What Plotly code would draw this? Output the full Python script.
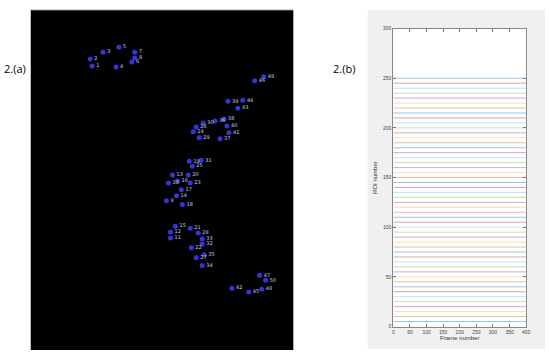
import plotly.graph_objects as go

W, H = 549, 359

# ---- Panel (a): ROI centroids (image pixel coords) ----
roi_labels = [str(i) for i in range(1, 51)]
roi_x = [92, 90, 103, 116, 119, 132, 135, 135, 167, 169,
         171, 171, 173, 177, 176, 178, 182, 183, 190, 189,
         191, 192, 191, 194, 193, 197, 197, 199, 200, 204,
         202, 203, 203, 203, 205, 216, 221, 225, 229, 228,
         230, 233, 239, 244, 250, 256, 261, 263, 265, 267]
roi_y = [64, 57, 50, 65, 45, 60, 50, 56, 201, 183,
         239, 233, 175, 196, 227, 181, 190, 205, 161, 175,
         229, 249, 183, 131, 166, 126, 259, 234, 137, 122,
         160, 245, 240, 267, 256, 120, 138, 118, 100, 125,
         132, 290, 107, 99, 294, 79, 277, 291, 75, 282]

# ---- Panel (b): ROI traces ----
frames = [0, 400]
roi_levels = [5, 10, 15, 20, 25, 30, 35, 40, 45, 50,
              55, 60, 65, 70, 75, 80, 85, 90, 95, 100,
              105, 110, 115, 120, 125, 130, 135, 140, 145, 150,
              155, 160, 165, 170, 175, 180, 185, 190, 195, 200,
              205, 210, 215, 220, 225, 230, 235, 240, 245, 250]
x_ticks = [0, 50, 100, 150, 200, 250, 300, 350, 400]
y_ticks = [0, 50, 100, 150, 200, 250, 300]
matlab_colors = ["rgba(0,114,189,0.4)", "rgba(217,83,25,0.4)", "rgba(237,177,32,0.4)",
                 "rgba(126,47,142,0.4)", "rgba(119,172,48,0.4)", "rgba(77,190,238,0.4)",
                 "rgba(162,20,47,0.4)"]

fig = go.Figure()

for i, lvl in enumerate(roi_levels):
    fig.add_trace(go.Scatter(x=frames, y=[lvl, lvl], mode="lines",
                             line=dict(color=matlab_colors[i % 7], width=1),
                             showlegend=False, hoverinfo="skip", xaxis="x", yaxis="y"))

fig.add_trace(go.Scatter(x=roi_x, y=roi_y, mode="markers+text", text=roi_labels,
                         textposition="middle right",
                         textfont=dict(size=5, color="#c8c8e8", family="DejaVu Sans"),
                         marker=dict(size=5, color="#3434d8", line=dict(width=0)),
                         showlegend=False, xaxis="x2", yaxis="y2"))

def px(x):
    return x / W

def py(y):
    return 1 - y / H

shapes = [
    dict(type="rect", xref="paper", yref="paper", x0=px(370), x1=px(549), y0=py(352), y1=py(7),
         fillcolor="#f0f0f0", line=dict(width=0), layer="below"),
    dict(type="rect", xref="paper", yref="paper", x0=px(396), x1=px(530), y0=py(329), y1=py(26),
         fillcolor="white", line=dict(width=0), layer="below"),
    dict(type="rect", xref="paper", yref="paper", x0=px(30), x1=px(295), y0=py(353), y1=py(7),
         fillcolor="black", line=dict(width=0), layer="below"),
    dict(type="line", xref="paper", yref="paper", x0=px(30), x1=px(295), y0=py(7), y1=py(7),
         line=dict(color="#bbbbbb", width=1)),
]

axis_font = dict(size=5, color="#444444", family="Liberation Sans")
fig.update_layout(
    width=W, height=H, margin=dict(l=0, r=0, t=0, b=0),
    paper_bgcolor="white", plot_bgcolor="rgba(0,0,0,0)",
    shapes=shapes,
    xaxis=dict(domain=[px(396), px(530)], range=[0, 400], tickvals=x_ticks,
               ticks="inside", ticklen=3, tickcolor="#777777", showgrid=False, zeroline=False,
               showline=True, linecolor="#888888", linewidth=1, mirror="ticks",
               tickfont=axis_font,
               title=dict(text="Frame number", font=dict(size=6, color="#333333", family="Liberation Sans"),
                          standoff=2)),
    yaxis=dict(domain=[py(329), py(26)], range=[0, 300], tickvals=y_ticks,
               ticks="inside", ticklen=3, tickcolor="#777777", showgrid=False, zeroline=False,
               showline=True, linecolor="#888888", linewidth=1, mirror="ticks",
               tickfont=axis_font,
               title=dict(text="ROI number", font=dict(size=6, color="#333333", family="Liberation Sans"),
                          standoff=4)),
    xaxis2=dict(domain=[px(30), px(295)], range=[30, 295], visible=False, anchor="y2"),
    yaxis2=dict(domain=[py(353), py(7)], range=[353, 7], visible=False, anchor="x2"),
    annotations=[
        dict(text="2.(a)", x=px(27), y=py(57), xref="paper", yref="paper", showarrow=False,
             xanchor="right", font=dict(size=11, color="black", family="Open Sans")),
        dict(text="2.(b)", x=px(333), y=py(57), xref="paper", yref="paper", showarrow=False,
             xanchor="left", font=dict(size=11, color="black", family="Open Sans")),
    ],
)

fig.write_html("out.html")
